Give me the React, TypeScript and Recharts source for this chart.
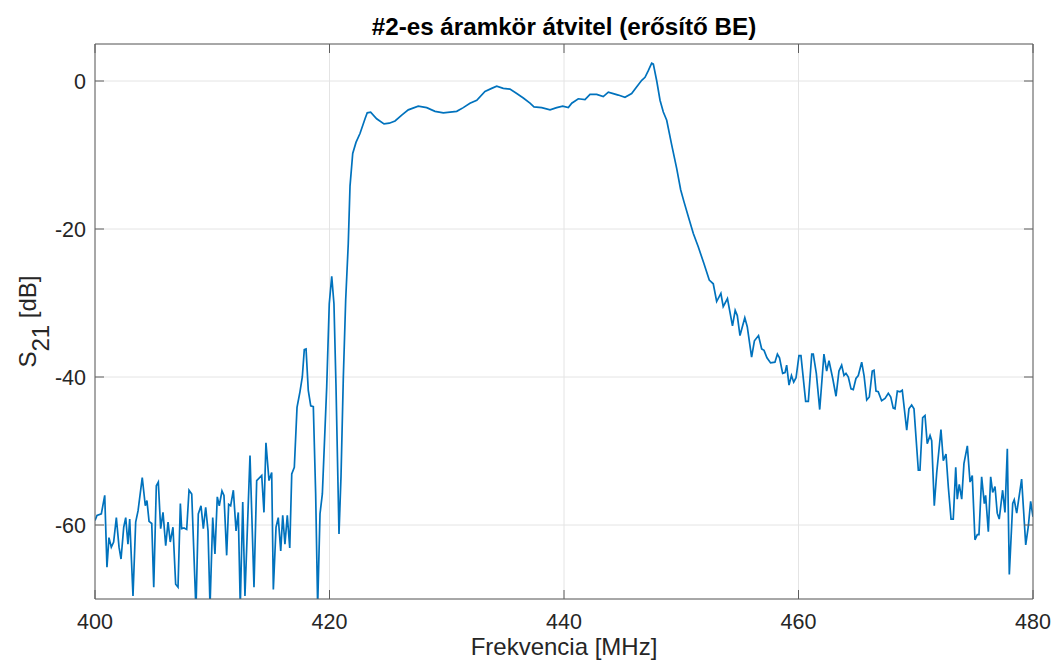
import React from "react";
import { LineChart, Line, XAxis, YAxis, CartesianGrid, Label } from "recharts";

const titleText = "#2-es áramkör átvitel (erősítő BE)";
const xLabelText = "Frekvencia [MHz]";
const xTicks = [400, 420, 440, 460, 480];
const yTicks = [-60, -40, -20, 0];

const freqMHz = [
  400.0, 400.17, 400.54, 400.83, 401.02, 401.19, 401.39, 401.59, 401.82, 402.05,
  402.22, 402.45, 402.62, 402.81, 402.96, 403.24, 403.47, 403.67, 404.03, 404.29,
  404.43, 404.61, 404.84, 405.01, 405.23, 405.4, 405.6, 405.8, 406.03, 406.23,
  406.42, 406.65, 406.88, 407.08, 407.28, 407.39, 407.59, 407.82, 408.02, 408.25,
  408.61, 408.81, 409.04, 409.24, 409.44, 409.64, 409.81, 410.04, 410.23, 410.43,
  410.6, 410.83, 411.0, 411.23, 411.4, 411.57, 411.8, 412.03, 412.22, 412.39,
  412.6, 412.79, 413.22, 413.56, 413.79, 414.22, 414.41, 414.58, 414.84, 415.07,
  415.21, 415.44, 415.63, 415.84, 416.01, 416.2, 416.4, 416.61, 416.78, 417.0,
  417.23, 417.48, 417.68, 417.85, 418.0, 418.19, 418.4, 418.62, 418.82, 418.99,
  419.19, 419.39, 419.76, 419.98, 420.19, 420.38, 420.55, 420.81, 420.98, 421.18,
  421.38, 421.6, 421.75, 421.98, 422.26, 422.6, 423.03, 423.22, 423.51, 424.02,
  424.65, 425.1, 425.59, 426.16, 426.72, 427.57, 428.29, 429.0, 429.71, 430.28,
  430.85, 431.41, 431.98, 432.56, 433.26, 433.83, 434.26, 434.82, 435.39, 435.97,
  436.53, 437.1, 437.44, 438.1, 438.81, 439.38, 439.89, 440.37, 440.66, 441.22,
  441.79, 442.22, 442.79, 443.35, 443.78, 444.2, 444.63, 445.2, 445.77, 446.19,
  446.63, 446.91, 447.19, 447.48, 447.62, 447.91, 448.19, 448.47, 448.76, 449.18,
  449.61, 449.95, 450.23, 450.6, 451.03, 451.45, 451.94, 452.39, 452.73, 453.02,
  453.38, 453.58, 453.94, 454.37, 454.6, 454.78, 455.01, 455.42, 455.63, 456.0,
  456.24, 456.59, 456.86, 457.06, 457.31, 457.62, 457.99, 458.2, 458.38, 458.65,
  458.85, 458.99, 459.19, 459.4, 459.59, 459.79, 460.04, 460.21, 460.61, 460.84,
  461.13, 461.26, 461.52, 461.81, 462.17, 462.4, 462.6, 462.92, 463.2, 463.45,
  463.68, 463.88, 464.05, 464.25, 464.48, 464.67, 464.9, 465.1, 465.39, 465.59,
  465.82, 466.04, 466.29, 466.44, 466.61, 466.8, 467.09, 467.38, 467.66, 467.87,
  468.08, 468.23, 468.43, 468.66, 468.85, 469.23, 469.42, 469.65, 469.85, 470.22,
  470.36, 470.59, 470.79, 470.98, 471.22, 471.36, 471.58, 471.79, 472.15, 472.35,
  472.58, 472.78, 473.01, 473.2, 473.41, 473.54, 473.71, 473.92, 474.11, 474.4,
  474.63, 474.82, 475.05, 475.25, 475.39, 475.62, 475.85, 475.96, 476.19, 476.39,
  476.56, 476.76, 476.95, 477.12, 477.41, 477.61, 477.81, 477.98, 478.27, 478.4,
  478.61, 479.03, 479.38, 479.6, 479.8, 480.0,
];

const s21dB = [
  -59.4, -58.7, -58.5, -56.0, -65.7, -61.7, -63.0, -62.3, -59.0, -63.0,
  -64.6, -60.3, -59.0, -62.6, -59.2, -69.6, -59.6, -58.1, -53.6, -57.4,
  -56.7, -59.5, -59.8, -68.4, -54.7, -54.2, -60.5, -58.3, -62.8, -59.6,
  -62.3, -60.3, -68.0, -68.4, -57.1, -60.5, -60.4, -60.6, -55.3, -55.8,
  -71.5, -58.5, -57.4, -60.5, -57.6, -60.8, -71.0, -59.0, -63.9, -56.2,
  -57.4, -55.4, -56.0, -64.1, -57.2, -57.4, -55.3, -60.8, -58.3, -71.0,
  -56.9, -69.6, -50.6, -68.4, -54.0, -53.3, -58.3, -48.9, -54.0, -52.9,
  -68.7, -60.3, -59.0, -63.5, -58.7, -62.6, -58.7, -63.1, -53.1, -52.2,
  -44.1, -42.0, -40.0, -36.3, -36.2, -41.8, -43.9, -44.0, -55.8, -71.0,
  -58.5, -55.8, -41.4, -30.1, -26.4, -30.1, -40.9, -61.2, -53.5, -40.0,
  -29.6, -22.0, -14.2, -9.8, -8.3, -7.1, -5.1, -4.3, -4.2, -5.1,
  -5.8, -5.7, -5.4, -4.6, -3.9, -3.4, -3.6, -4.1, -4.3, -4.2,
  -4.1, -3.6, -3.0, -2.6, -1.4, -1.0, -0.7, -1.0, -1.1, -1.7,
  -2.3, -3.0, -3.5, -3.6, -3.9, -3.6, -3.4, -3.6, -3.0, -2.4,
  -2.5, -1.8, -1.8, -2.1, -1.5, -1.7, -1.9, -2.2, -1.7, -0.8,
  0.1, 0.5, 1.4, 2.4, 2.3, 0.0, -2.6, -4.2, -5.3, -8.6,
  -11.8, -14.7, -16.3, -18.3, -20.6, -22.4, -24.7, -26.9, -27.4, -29.8,
  -28.7, -30.5, -29.4, -33.1, -31.0, -31.7, -34.4, -32.0, -33.2, -37.3,
  -35.1, -34.4, -36.2, -36.4, -37.4, -38.1, -38.0, -36.9, -37.4, -39.5,
  -39.4, -38.4, -41.1, -39.8, -40.7, -40.1, -37.1, -37.1, -43.3, -43.3,
  -36.9, -36.9, -39.5, -44.4, -36.9, -39.2, -37.8, -40.2, -42.6, -39.2,
  -38.4, -39.8, -39.5, -40.0, -41.6, -41.7, -40.2, -39.8, -38.0, -39.8,
  -43.1, -42.7, -39.2, -39.1, -41.9, -42.0, -43.2, -42.9, -42.2, -42.7,
  -44.2, -44.3, -41.9, -42.0, -41.8, -47.2, -44.3, -43.8, -44.3, -52.6,
  -52.6, -45.5, -45.2, -49.0, -47.9, -48.6, -57.4, -52.9, -47.1, -51.3,
  -50.4, -54.9, -59.2, -59.2, -52.2, -56.5, -54.5, -56.5, -51.7, -49.3,
  -54.2, -53.3, -62.0, -61.3, -61.3, -53.5, -57.1, -56.0, -60.9, -53.5,
  -55.6, -54.8, -58.4, -59.2, -55.3, -58.3, -49.7, -66.7, -57.1, -56.6,
  -58.4, -53.8, -62.7, -60.2, -56.8, -58.9,
];

const rows = freqMHz.map((f, i) => ({ f, v: s21dB[i] }));

const FONT = "'Liberation Sans', Arial, Helvetica, sans-serif";
const TXT = "#262626";
const BOX = "#5e5e5e";
const TICK_LEN = 9;

const BottomTick = (p: any) => (
  <g>
    <line x1={p.x} x2={p.x} y1={p.y} y2={p.y - TICK_LEN} stroke={BOX} strokeWidth={1} />
    <text x={p.x} y={p.y + 15} dy="0.71em" textAnchor="middle" fontSize={21.5} fontFamily={FONT} fill={TXT}>
      {p.payload.value}
    </text>
  </g>
);
const TopTick = (p: any) => (
  <line x1={p.x} x2={p.x} y1={p.y} y2={p.y + TICK_LEN} stroke={BOX} strokeWidth={1} />
);
const LeftTick = (p: any) => (
  <g>
    <line x1={p.x} x2={p.x + TICK_LEN} y1={p.y} y2={p.y} stroke={BOX} strokeWidth={1} />
    <text x={p.x - 9} y={p.y} dy="0.35em" textAnchor="end" fontSize={21.5} fontFamily={FONT} fill={TXT}>
      {p.payload.value}
    </text>
  </g>
);
const RightTick = (p: any) => (
  <line x1={p.x} x2={p.x - TICK_LEN} y1={p.y} y2={p.y} stroke={BOX} strokeWidth={1} />
);

const renderYLabel = (props: any) => {
  const vb = props.viewBox || {};
  const cx = 36;
  const cy = (vb.y ?? 44) + (vb.height ?? 555) / 2;
  return (
    <text
      x={cx}
      y={cy}
      transform={`rotate(-90, ${cx}, ${cy})`}
      textAnchor="middle"
      fontSize={24}
      fontFamily={FONT}
      fill={TXT}
    >
      S<tspan dy="0.55em">21</tspan>
      <tspan dy="-0.55em"> [dB]</tspan>
    </text>
  );
};

const renderXLabel = (props: any) => {
  const vb = props.viewBox || {};
  const cx = (vb.x ?? 95) + (vb.width ?? 938) / 2;
  return (
    <text x={cx} y={(vb.y ?? 599) + 56} textAnchor="middle" fontSize={24} fontFamily={FONT} fill={TXT}>
      {xLabelText}
    </text>
  );
};

const renderTitle = (props: any) => {
  const vb = props.viewBox || {};
  const cx = (vb.x ?? 95) + (vb.width ?? 938) / 2;
  return (
    <text x={cx} y={35} textAnchor="middle" fontSize={24.2} fontWeight="bold" fontFamily={FONT} fill="#000">
      {titleText}
    </text>
  );
};

export default function App() {
  return (
    <div style={{ position: "absolute", left: 0, top: 0, width: 1056, height: 662, background: "#fff" }}>
      <LineChart width={1056} height={662} data={rows} margin={{ top: 43, right: 22, bottom: 0, left: 0 }}>
        <CartesianGrid xAxisId="b" yAxisId="l" stroke="#e4e4e4" strokeWidth={1} />
        <XAxis
          xAxisId="b"
          dataKey="f"
          type="number"
          domain={[400, 480]}
          ticks={xTicks}
          allowDataOverflow
          height={63}
          tickSize={0}
          tickMargin={0}
          tickLine={false}
          axisLine={{ stroke: BOX }}
          tick={<BottomTick />}
          interval={0}
        >
          <Label content={renderXLabel} />
        </XAxis>
        <XAxis
          xAxisId="t"
          orientation="top"
          dataKey="f"
          type="number"
          domain={[400, 480]}
          ticks={xTicks}
          allowDataOverflow
          height={1}
          tickSize={0}
          tickMargin={0}
          tickLine={false}
          axisLine={{ stroke: BOX }}
          tick={<TopTick />}
          interval={0}
        >
          <Label content={renderTitle} />
        </XAxis>
        <YAxis
          yAxisId="l"
          type="number"
          domain={[-70, 5]}
          ticks={yTicks}
          allowDataOverflow
          width={95}
          tickSize={0}
          tickMargin={0}
          tickLine={false}
          axisLine={{ stroke: BOX }}
          tick={<LeftTick />}
          interval={0}
        >
          <Label content={renderYLabel} />
        </YAxis>
        <YAxis
          yAxisId="r"
          orientation="right"
          type="number"
          domain={[-70, 5]}
          ticks={yTicks}
          allowDataOverflow
          width={1}
          tickSize={0}
          tickMargin={0}
          tickLine={false}
          axisLine={{ stroke: BOX }}
          tick={<RightTick />}
          interval={0}
        />
        <Line
          xAxisId="b"
          yAxisId="l"
          type="linear"
          dataKey="v"
          stroke="#0072BD"
          strokeWidth={1.7}
          dot={false}
          isAnimationActive={false}
        />
      </LineChart>
    </div>
  );
}
